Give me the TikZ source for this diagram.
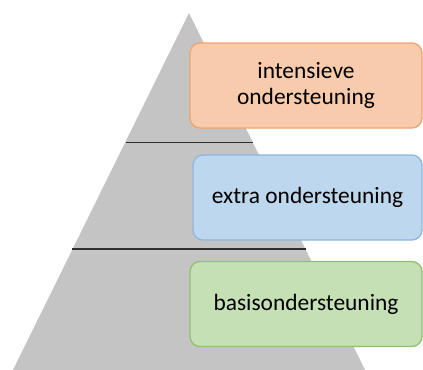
\documentclass[tikz,border=0pt]{standalone}
\usepackage{fontspec}
\setmainfont{Carlito}
\definecolor{pyr}{HTML}{C4C4C4}
\definecolor{sep}{HTML}{2E2E2E}
\definecolor{orfill}{HTML}{F8CBAD}
\definecolor{ordraw}{HTML}{F0A36E}
\definecolor{blfill}{HTML}{BDD7EE}
\definecolor{bldraw}{HTML}{8DB6DF}
\definecolor{grfill}{HTML}{C5E0B4}
\definecolor{grdraw}{HTML}{8FC16F}
\tikzset{
  level/.style={rounded corners=10bp, line width=1.3bp, minimum height=85bp, align=center, font=\fontsize{23.5}{26}\selectfont, inner sep=0pt},
  sepline/.style={draw=sep, line width=1.7bp}
}
\begin{document}
\begin{tikzpicture}[x=1bp,y=-1bp]
\useasboundingbox (0,0) rectangle (423,370);
\clip (0,0) rectangle (423,370);
% pyramid
\coordinate (apex) at (189,13);
\coordinate (bl) at (8,380);
\coordinate (br) at (370,380);
\fill[pyr] (apex) -- (br) -- (bl) -- cycle;
\coordinate (l1a) at (125.5,142.5);
\coordinate (l1b) at (253,142.5);
\coordinate (l2a) at (72,249);
\coordinate (l2b) at (306,249);
\draw[sepline] (l1a) -- (l1b);
\draw[sepline] (l2a) -- (l2b);
% boxes
\node[level, fill=orfill, draw=ordraw, minimum width=232bp] (top) at (306,85.5) {intensieve\\ondersteuning};
\node[level, fill=blfill, draw=bldraw, minimum width=229bp] (mid) at (307.5,197.5) {extra ondersteuning};
\node[level, fill=grfill, draw=grdraw, minimum width=232bp] (bot) at (306,304) {basisondersteuning};
\end{tikzpicture}
\end{document}
